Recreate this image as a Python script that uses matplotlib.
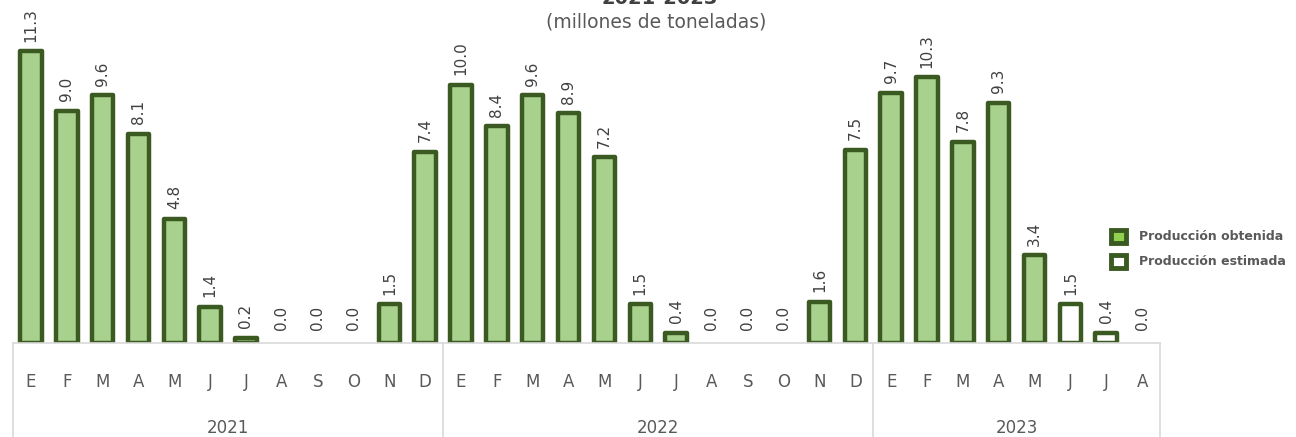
import matplotlib
matplotlib.use("Agg")
import matplotlib.pyplot as plt
from matplotlib.lines import Line2D
from matplotlib.patches import Patch

months = ["E", "F", "M", "A", "M", "J", "J", "A", "S", "O", "N", "D",
          "E", "F", "M", "A", "M", "J", "J", "A", "S", "O", "N", "D",
          "E", "F", "M", "A", "M", "J", "J", "A"]
years = ["2021", "2022", "2023"]
year_counts = [12, 12, 8]
values = [11.3, 9.0, 9.6, 8.1, 4.8, 1.4, 0.2, 0.0, 0.0, 0.0, 1.5, 7.4,
          10.0, 8.4, 9.6, 8.9, 7.2, 1.5, 0.4, 0.0, 0.0, 0.0, 1.6, 7.5,
          9.7, 10.3, 7.8, 9.3, 3.4, 1.5, 0.4, 0.0]
estimated = [False] * 29 + [True, True, True]

W, H = 1296, 437
fig = plt.figure(figsize=(W / 100, H / 100), dpi=100)
x0, x1 = 13, 1160
base = 343
ax = fig.add_axes([x0 / W, (H - base) / H, (x1 - x0) / W, base / H])
n = len(values)
ax.set_xlim(-0.5, n - 0.5)
ax.set_ylim(0, base / 25.8)
ax.axis("off")

edge = "#3a5a22"
fill = "#a9d18e"
txt = "#595959"
for i, (v, est) in enumerate(zip(values, estimated)):
    if v > 0:
        ax.bar(i, v, width=0.6, color="white" if est else fill,
               edgecolor=edge, linewidth=3.2, joinstyle="round")
    ax.annotate(f"{v:.1f}", (i, v), xytext=(0, 7 if v > 0 else 9),
                textcoords="offset points", rotation=90, ha="center",
                va="bottom", fontsize=11, color="#404040")

# category axis box
sep = "#d9d9d9"
fig.add_artist(Line2D([x0 / W, x1 / W], [(H - base) / H] * 2, color=sep, lw=1.2))
cw = (x1 - x0) / n
pos = 0
bounds = [0]
for c in year_counts:
    pos += c
    bounds.append(pos)
for b in bounds:
    xx = (x0 + b * cw) / W
    fig.add_artist(Line2D([xx, xx], [0, (H - base) / H], color=sep, lw=1.2))
for i, m in enumerate(months):
    fig.text((x0 + (i + 0.5) * cw) / W, (H - 382) / H, m, ha="center",
             va="center", fontsize=12, color=txt)
for k, y in enumerate(years):
    mid = (bounds[k] + bounds[k + 1]) / 2
    fig.text((x0 + mid * cw) / W, (H - 428) / H, y, ha="center",
             va="center", fontsize=12, color=txt)

fig.text(660 / W, (H - 4) / H, "2021-2023", ha="center", va="baseline",
         fontsize=14, fontweight="bold", color="#404040")
fig.text(656 / W, (H - 22) / H, "(millones de toneladas)", ha="center",
         va="center", fontsize=13.5, color=txt)

handles = [Patch(facecolor="#92d050", edgecolor=edge, linewidth=3.5),
           Patch(facecolor="white", edgecolor=edge, linewidth=3.5)]
fig.legend(handles, ["Producción obtenida", "Producción estimada"],
           loc="center left", bbox_to_anchor=(1102 / W, (H - 249) / H),
           frameon=False, handlelength=1.25, handleheight=1.25,
           labelcolor=txt, prop={"weight": "bold", "size": 9},
           handletextpad=1.0, labelspacing=0.9, borderpad=0.2)

fig.savefig("out.png", dpi=100)
